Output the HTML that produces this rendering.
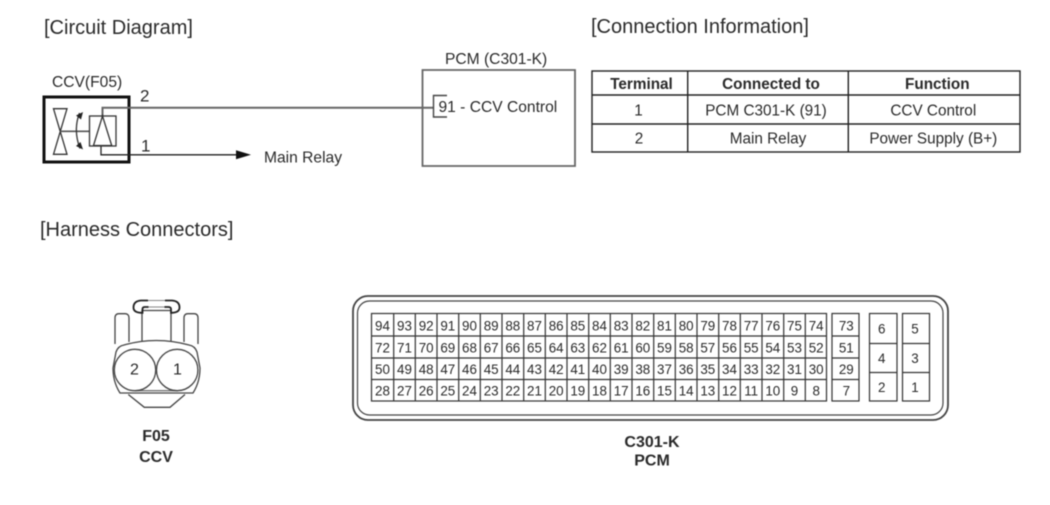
<!DOCTYPE html>
<html><head><meta charset="utf-8"><style>
html,body{margin:0;padding:0;background:#fff;width:1050px;height:505px;overflow:hidden}
svg{display:block;filter:blur(.4px)}
text{font-family:"Liberation Sans",sans-serif;fill:#2a2a2a}
.n{font-size:13.4px;text-anchor:middle}
.t{font-size:15.3px;text-anchor:middle}
.th{font-size:15.3px;font-weight:bold;text-anchor:middle}
.h{font-size:20px}
.l{font-size:15.6px}
.b{font-size:16px;font-weight:bold;text-anchor:middle}
</style></head><body>
<svg width="1050" height="505" viewBox="0 0 1050 505" xmlns="http://www.w3.org/2000/svg">
<rect width="1050" height="505" fill="#fff"/>
<text class="h" x="44" y="34">[Circuit Diagram]</text>
<text class="h" x="591" y="33">[Connection Information]</text>
<text class="h" x="40" y="236">[Harness Connectors]</text>

<text class="l" x="52" y="87">CCV(F05)</text>
<rect x="44" y="97" width="85" height="65" fill="none" stroke="#111" stroke-width="3"/>
<text x="140" y="101.5" font-size="17">2</text>
<text x="141" y="151.5" font-size="17">1</text>
<path d="M102.5 116V107.7H433.5" fill="none" stroke="#666" stroke-width="2"/>
<path d="M101 146V154.8H238" fill="none" stroke="#222" stroke-width="1.3"/>
<path d="M236 150.3L251 154.8L236 159.3Z" fill="#111"/>
<text class="l" x="264" y="162.5">Main Relay</text>
<g fill="none" stroke="#333" stroke-width="1.3">
<path d="M53.5 108.7H67L53.5 154.3H67Z"/>
<path d="M60.3 131.3H89.3" stroke="#555" stroke-width="1.6"/>
<rect x="89.5" y="116" width="26.5" height="30"/>
<path d="M102.5 116L93.5 145.5H111.7Z"/>
<path d="M79.5 113Q73 130 80 148.5"/>
</g>
<path d="M76 115.5L83 112L81 119.5ZM76 146L83 149.5L80.5 142Z" fill="#222"/>

<text class="l" x="445" y="64">PCM (C301-K)</text>
<path d="M422.5 70H575V166H422.5Z" fill="none" stroke="#666" stroke-width="1.8"/>
<path d="M447 95.5H433.5V117H447" fill="none" stroke="#444" stroke-width="1.4"/>
<text class="l" x="438.5" y="112">91 - CCV Control</text>

<g fill="none" stroke="#222" stroke-width="1.4">
<rect x="592" y="71" width="428" height="81"/>
<path d="M592 95H1020M592 124H1020M687.7 71V152M848.3 71V152"/>
</g>
<text class="th" x="641.5" y="89">Terminal</text>
<text class="th" x="771" y="89">Connected to</text>
<text class="th" x="937.3" y="89">Function</text>
<text class="t" x="638.5" y="115.5">1</text>
<text class="t" x="766" y="115.5">PCM C301-K (91)</text>
<text class="t" x="933.3" y="115.5">CCV Control</text>
<text class="t" x="639" y="143.5">2</text>
<text class="t" x="768" y="143.5">Main Relay</text>
<text class="t" x="933.3" y="143.5">Power Supply (B+)</text>

<g fill="none" stroke="#444" stroke-width="1.3">
<path d="M115 344V318Q115 313.7 119 313.7H125Q129 313.7 129 318V342"/>
<path d="M184 342V318Q184 313.7 188 313.7H194Q198 313.7 198 318V344"/>
<path d="M142 342V310.5H171V342"/>
<path d="M148 300.5H165" stroke="#888" stroke-width=".9"/>
<path d="M148 307H165" stroke="#888" stroke-width=".9"/>
<path d="M148 300.5H141Q133.5 301 133.5 307.5Q133.5 312.5 141 312.8H142.5V309Q142.5 307 145 307H148.5" stroke="#222" stroke-width="1.8"/>
<path d="M165 300.5H172Q179.5 301 179.5 307.5Q179.5 312.5 172 312.8H171V309Q171 307 168 307H164.5" stroke="#222" stroke-width="1.8"/>
<path d="M116 352Q118 346 124 345Q156 336 189 345Q195 346 197 352L200 368Q200 382 193 393H120Q113 382 113 368Z" fill="#fff"/>
<path d="M128.3 394.5L144.3 407.3H170L185 394.5"/>
<path d="M135 390.7H178" stroke="#777"/>
<circle cx="135" cy="370" r="20.7" fill="#fff"/>
<circle cx="177.2" cy="370" r="20.7" fill="#fff"/>
</g>
<text x="134.5" y="374.5" font-size="16" text-anchor="middle">2</text>
<text x="177.5" y="374.5" font-size="16" text-anchor="middle">1</text>
<text class="b" x="156" y="441">F05</text>
<text class="b" x="156" y="462">CCV</text>

<g fill="none" stroke="#444">
<rect x="353" y="296" width="595" height="124" rx="15" stroke-width="1.8"/>
<rect x="357.5" y="301" width="585.5" height="114" rx="12" stroke-width="1.2"/>
</g>
<g fill="none" stroke="#333" stroke-width="1.2">
<rect x="371.5" y="313.5" width="455" height="87.5"/>
<path d="M371.5 336H826.5M371.5 358H826.5M371.5 379.5H826.5"/>
<path d="M393.7 313.5V401M415.3 313.5V401M437 313.5V401M458.7 313.5V401M480.3 313.5V401M502 313.5V401M523.7 313.5V401M545.3 313.5V401M567 313.5V401M588.7 313.5V401M610.3 313.5V401M632 313.5V401M653.7 313.5V401M675.3 313.5V401M697 313.5V401M718.7 313.5V401M740.3 313.5V401M762 313.5V401M783.7 313.5V401M805.3 313.5V401"/>
<rect x="832" y="313.5" width="27" height="87.5"/>
<path d="M832 336H859M832 358H859M832 379.5H859"/>
<rect x="869.5" y="313.5" width="27.5" height="87.5"/>
<path d="M869.5 343.5H897M869.5 372.5H897"/>
<rect x="902.5" y="313.5" width="27" height="87.5"/>
<path d="M902.5 343.5H929.5M902.5 372.5H929.5"/>
</g>
<text class="n" x="382.5" y="330.5">94</text><text class="n" x="404.5" y="330.5">93</text><text class="n" x="426.2" y="330.5">92</text><text class="n" x="447.8" y="330.5">91</text><text class="n" x="469.5" y="330.5">90</text><text class="n" x="491.2" y="330.5">89</text><text class="n" x="512.8" y="330.5">88</text><text class="n" x="534.5" y="330.5">87</text><text class="n" x="556.2" y="330.5">86</text><text class="n" x="577.8" y="330.5">85</text><text class="n" x="599.5" y="330.5">84</text><text class="n" x="621.2" y="330.5">83</text><text class="n" x="642.8" y="330.5">82</text><text class="n" x="664.5" y="330.5">81</text><text class="n" x="686.2" y="330.5">80</text><text class="n" x="707.8" y="330.5">79</text><text class="n" x="729.5" y="330.5">78</text><text class="n" x="751.2" y="330.5">77</text><text class="n" x="772.8" y="330.5">76</text><text class="n" x="794.5" y="330.5">75</text><text class="n" x="816.2" y="330.5">74</text>
<text class="n" x="382.5" y="352.5">72</text><text class="n" x="404.5" y="352.5">71</text><text class="n" x="426.2" y="352.5">70</text><text class="n" x="447.8" y="352.5">69</text><text class="n" x="469.5" y="352.5">68</text><text class="n" x="491.2" y="352.5">67</text><text class="n" x="512.8" y="352.5">66</text><text class="n" x="534.5" y="352.5">65</text><text class="n" x="556.2" y="352.5">64</text><text class="n" x="577.8" y="352.5">63</text><text class="n" x="599.5" y="352.5">62</text><text class="n" x="621.2" y="352.5">61</text><text class="n" x="642.8" y="352.5">60</text><text class="n" x="664.5" y="352.5">59</text><text class="n" x="686.2" y="352.5">58</text><text class="n" x="707.8" y="352.5">57</text><text class="n" x="729.5" y="352.5">56</text><text class="n" x="751.2" y="352.5">55</text><text class="n" x="772.8" y="352.5">54</text><text class="n" x="794.5" y="352.5">53</text><text class="n" x="816.2" y="352.5">52</text>
<text class="n" x="382.5" y="374">50</text><text class="n" x="404.5" y="374">49</text><text class="n" x="426.2" y="374">48</text><text class="n" x="447.8" y="374">47</text><text class="n" x="469.5" y="374">46</text><text class="n" x="491.2" y="374">45</text><text class="n" x="512.8" y="374">44</text><text class="n" x="534.5" y="374">43</text><text class="n" x="556.2" y="374">42</text><text class="n" x="577.8" y="374">41</text><text class="n" x="599.5" y="374">40</text><text class="n" x="621.2" y="374">39</text><text class="n" x="642.8" y="374">38</text><text class="n" x="664.5" y="374">37</text><text class="n" x="686.2" y="374">36</text><text class="n" x="707.8" y="374">35</text><text class="n" x="729.5" y="374">34</text><text class="n" x="751.2" y="374">33</text><text class="n" x="772.8" y="374">32</text><text class="n" x="794.5" y="374">31</text><text class="n" x="816.2" y="374">30</text>
<text class="n" x="382.5" y="395.5">28</text><text class="n" x="404.5" y="395.5">27</text><text class="n" x="426.2" y="395.5">26</text><text class="n" x="447.8" y="395.5">25</text><text class="n" x="469.5" y="395.5">24</text><text class="n" x="491.2" y="395.5">23</text><text class="n" x="512.8" y="395.5">22</text><text class="n" x="534.5" y="395.5">21</text><text class="n" x="556.2" y="395.5">20</text><text class="n" x="577.8" y="395.5">19</text><text class="n" x="599.5" y="395.5">18</text><text class="n" x="621.2" y="395.5">17</text><text class="n" x="642.8" y="395.5">16</text><text class="n" x="664.5" y="395.5">15</text><text class="n" x="686.2" y="395.5">14</text><text class="n" x="707.8" y="395.5">13</text><text class="n" x="729.5" y="395.5">12</text><text class="n" x="751.2" y="395.5">11</text><text class="n" x="772.8" y="395.5">10</text><text class="n" x="794.5" y="395.5">9</text><text class="n" x="816.2" y="395.5">8</text>
<text class="n" x="846.3" y="330.5">73</text><text class="n" x="846.3" y="352.5">51</text><text class="n" x="846.3" y="374">29</text><text class="n" x="846.3" y="395.5">7</text>
<text class="n" x="881.7" y="333.5">6</text><text class="n" x="881.7" y="363">4</text><text class="n" x="881.7" y="392">2</text>
<text class="n" x="915" y="333.5">5</text><text class="n" x="915" y="363">3</text><text class="n" x="915" y="392">1</text>
<text class="b" x="652" y="447">C301-K</text>
<text class="b" x="652" y="465.5">PCM</text>
</svg>
</body></html>
